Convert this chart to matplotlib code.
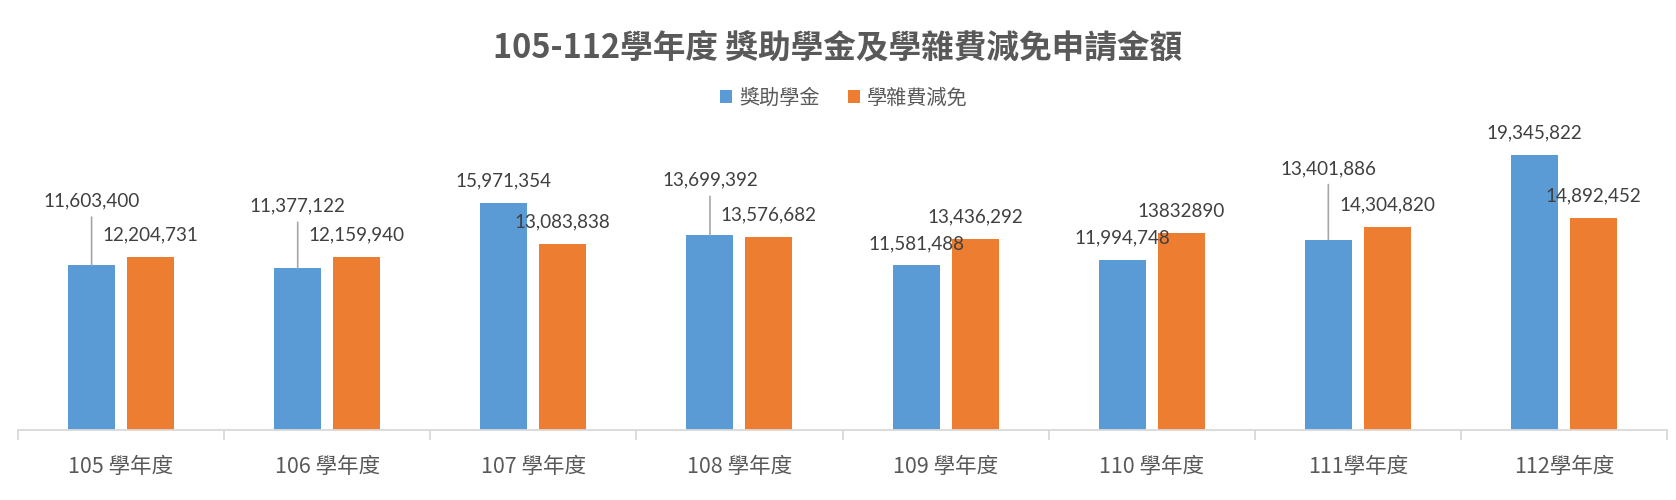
import numpy as np
import matplotlib
matplotlib.use("Agg")
import matplotlib.pyplot as plt
from matplotlib.transforms import blended_transform_factory

plt.rcParams["font.family"] = ["Noto Sans CJK TC", "DejaVu Sans"]

# ── data ──────────────────────────────────────────────────────────────────────
years = ["105 學年度", "106 學年度", "107 學年度", "108 學年度",
         "109 學年度", "110 學年度", "111學年度", "112學年度"]
scholarship = [11603400, 11377122, 15971354, 13699392,
               11581488, 11994748, 13401886, 19345822]
fee_waiver = [12204731, 12159940, 13083838, 13576682,
              13436292, 13832890, 14304820, 14892452]
scholarship_labels = ["11,603,400", "11,377,122", "15,971,354", "13,699,392",
                      "11,581,488", "11,994,748", "13,401,886", "19,345,822"]
fee_labels = ["12,204,731", "12,159,940", "13,083,838", "13,576,682",
              "13,436,292", "13832890", "14,304,820", "14,892,452"]

BLUE, ORANGE = "#5b9bd5", "#ed7d31"
TXT = "#595959"
LBL = "#404040"

# label lift above bar top (px); some labels were dragged up with leader lines
lift_blue = [64, 62, 22, 55, 22, 22, 71, 22]
lift_orange = [22] * 8

# ── plot ──────────────────────────────────────────────────────────────────────
fig = plt.figure(figsize=(16.76, 5.0), dpi=100)
ax = fig.add_axes([18 / 1676, 70 / 500, 1649 / 1676, 312.7 / 500])

x = np.arange(len(years))
w, off = 0.228, 0.143
bars_b = ax.bar(x - off, scholarship, width=w, color=BLUE, label="獎助學金")
bars_o = ax.bar(x + off, fee_waiver, width=w, color=ORANGE, label="學雜費減免")

ax.set_xlim(-0.5, len(years) - 0.5)
ax.set_ylim(0, 22_000_000)

for s in ["top", "right", "left"]:
    ax.spines[s].set_visible(False)
ax.spines["bottom"].set_color("#d9d9d9")
ax.spines["bottom"].set_linewidth(1.3)
ax.set_yticks([])
ax.set_xticks(np.arange(-0.5, len(years)), minor=True)
ax.set_xticks(x)
ax.set_xticklabels([])
ax.tick_params(axis="x", which="major", length=0)
ax.tick_params(axis="x", which="minor", length=7, width=1.3, color="#d9d9d9")

trans = blended_transform_factory(ax.transData, fig.transFigure)
for xi, yr in zip(x, years):
    ax.text(xi, 1 - 467 / 500, yr, transform=trans,
            ha="center", va="center", fontsize=15.5, color=TXT)

# data labels
for bars, labs, lifts in [(bars_b, scholarship_labels, lift_blue),
                          (bars_o, fee_labels, lift_orange)]:
    for b, lab, lift in zip(bars, labs, lifts):
        cx = b.get_x() + b.get_width() / 2
        top = b.get_height()
        ax.annotate(lab, (cx, top), xytext=(0, lift), textcoords="offset pixels",
                    ha="center", va="center", fontsize=13.6, color=LBL,
                    family=["Lato", "DejaVu Sans"], annotation_clip=False)
        if lift > 30:
            ax.annotate("", (cx, top), xytext=(0, lift - 16), textcoords="offset pixels",
                        arrowprops=dict(arrowstyle="-", color="#a6a6a6", lw=1.2,
                                        shrinkA=0, shrinkB=0),
                        annotation_clip=False)

fig.text(0.5, 1 - 48 / 500, "105-112學年度 獎助學金及學雜費減免申請金額",
         ha="center", va="center", fontsize=23.5, fontweight="bold", color=TXT)

fig.legend(handles=[bars_b, bars_o], loc="center", ncol=2,
           bbox_to_anchor=(844 / 1676, 1 - 98 / 500), frameon=False,
           handlelength=0.6, handleheight=0.6, handletextpad=0.35,
           columnspacing=1.4, prop={"size": 14.5}, labelcolor=TXT)

fig.savefig("out.png", dpi=100)
plt.close()
